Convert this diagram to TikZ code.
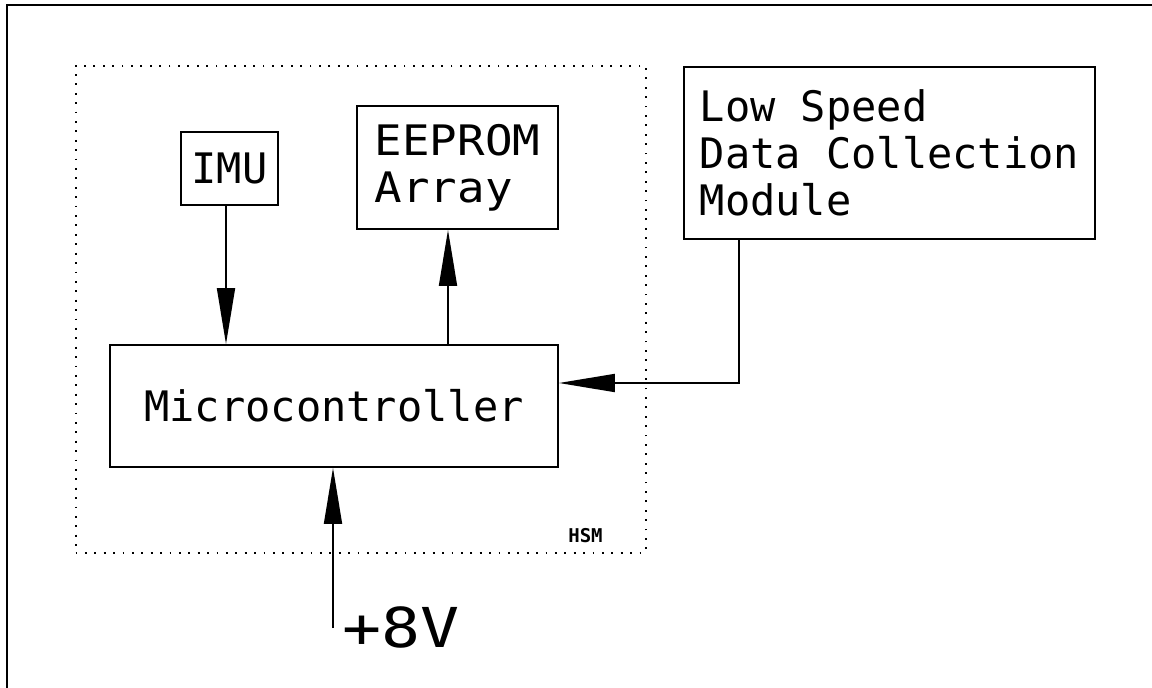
\documentclass[tikz,border=0pt]{standalone}
\usepackage{fontspec}
\newfontfamily\cadfont{DejaVu Sans Mono}
\newfontfamily\cadwide[FakeStretch=1.18]{DejaVu Sans Mono}
\newfontfamily\cadmid[FakeStretch=1.09]{DejaVu Sans Mono}
\usetikzlibrary{arrows.meta}
\begin{document}
\begin{tikzpicture}[x=1pt,y=-1pt,
  box/.style={draw=black,line width=1.8pt,rectangle,inner sep=0pt,font=\cadfont\fontsize{42}{47}\selectfont,align=left},
  arr/.style={line width=1.8pt,-{Triangle[length=56pt,width=18pt]}},
  dotbox/.style={draw=black,line width=2pt,dash pattern=on 1.8pt off 7.6pt,rectangle,inner sep=0pt},
]
\useasboundingbox (0,0) rectangle (1152,688);
\fill[white] (0,0) rectangle (1152,688);
\draw[line width=2.6pt] (7,690) -- (7,5) -- (1154,5);
\node[dotbox,minimum width=570pt,minimum height=487pt] (hsmbox) at (360.5,309) {};
\node[box,minimum width=97pt,minimum height=73pt] (imu) at (229.5,168.5) {IMU};
\node[box,minimum width=201pt,minimum height=123pt,font=\cadmid\fontsize{42}{47}\selectfont] (eeprom) at (457.5,167.5) {EEPROM\\Array};
\node[box,minimum width=411pt,minimum height=172pt] (lsdc) at (889.5,153) {Low Speed\\Data Collection\\Module};
\node[box,minimum width=448pt,minimum height=122pt] (micro) at (334,406) {Microcontroller};
\node[font=\cadfont\bfseries\fontsize{19}{19}\selectfont,inner sep=0pt] (hsmlabel) at (585.5,536) {HSM};
\node[font=\cadwide\fontsize{55}{55}\selectfont,anchor=base west,inner sep=0pt] (vin) at (342,647) {+8V};
\coordinate (vend) at (333,628);
\draw[arr] ([xshift=-3.5pt]imu.south) -- ([xshift=-3.5pt]imu.south |- micro.north);
\draw[arr] ([xshift=-9.5pt]eeprom.south |- micro.north) -- ([xshift=-9.5pt]eeprom.south);
\draw[arr] ([xshift=-150.5pt]lsdc.south) |- ([yshift=23pt]micro.east);
\draw[arr] (vend) -- (vend |- micro.south);
\end{tikzpicture}
\end{document}
